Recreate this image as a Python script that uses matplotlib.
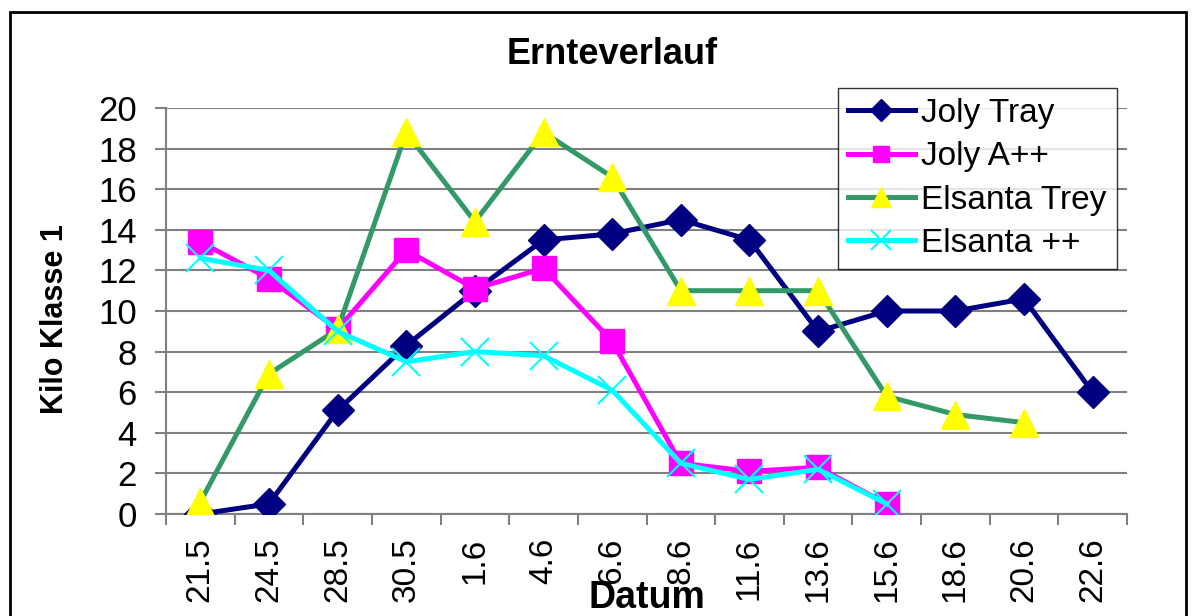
import numpy as np
import matplotlib
matplotlib.use("Agg")
import matplotlib.pyplot as plt
from matplotlib.patches import Rectangle

plt.rcParams['font.family'] = ['Liberation Sans', 'DejaVu Sans']

dates = ["21.5", "24.5", "28.5", "30.5", "1.6", "4.6", "6.6", "8.6",
         "11.6", "13.6", "15.6", "18.6", "20.6", "22.6"]
joly_tray = [0, 0.5, 5.1, 8.3, 11.0, 13.5, 13.8, 14.5, 13.5, 9.0, 10.0, 10.0, 10.6, 6.0]
joly_app = [13.4, 11.6, 9.1, 13.0, 11.1, 12.1, 8.5, 2.5, 2.1, 2.3, 0.5]
elsanta_trey = [0.6, 6.9, 9.1, 18.8, 14.4, 18.8, 16.6, 11.0, 11.0, 11.0, 5.8, 4.9, 4.5]
elsanta_pp = [12.6, 12.0, 9.0, 7.5, 8.0, 7.8, 6.1, 2.5, 1.7, 2.2, 0.5]

W, H = 1197, 616
fig = plt.figure(figsize=(W / 100, H / 100), dpi=100)
ax = fig.add_axes([166 / W, 1 - 514 / H, (1127 - 166) / W, (514 - 108) / H])

grey = "#808080"
x = np.arange(len(dates))

ax.plot(x[:len(joly_tray)], joly_tray, color="#000080", lw=3.6, marker="D", ms=16,
        mfc="#000080", mec="#000080", label="Joly Tray", zorder=3)
ax.plot(x[:len(joly_app)], joly_app, color="#FF00FF", lw=3.6, marker="s", ms=17,
        mfc="#FF00FF", mec="#FF00FF", label="Joly A++", zorder=4)
ax.plot(x[:len(elsanta_trey)], elsanta_trey, color="#339966", lw=3.6, marker="^", ms=20,
        mfc="#FFFF00", mec="#FFFF00", label="Elsanta Trey", zorder=5)
ax.plot(x[:len(elsanta_pp)], elsanta_pp, color="#00FFFF", lw=3.6, marker="x", ms=20,
        mew=1.5, mec="#00FFFF", label="Elsanta ++", zorder=6)

ax.set_xlim(-0.5, len(dates) - 0.5)
ax.set_ylim(0, 20)
ax.set_yticks(np.arange(0, 21, 2))
ax.yaxis.grid(True, color=grey, lw=1.5)
ax.set_axisbelow(True)

ax.set_xticks(np.arange(-0.5, len(dates), 1))
ax.set_xticklabels([])
ax.set_xticks(x, minor=True)
ax.set_xticklabels(dates, minor=True, rotation=90, fontsize=24, va="top")
ax.tick_params(axis="x", which="minor", length=0, pad=17)
ax.tick_params(axis="x", which="major", length=8, width=1.5, color=grey)
ax.tick_params(axis="y", length=8, width=1.5, color=grey, labelsize=25, pad=13)

for s in ["top", "right"]:
    ax.spines[s].set_visible(False)
for s in ["left", "bottom"]:
    ax.spines[s].set_color(grey)
    ax.spines[s].set_linewidth(1.5)

fig.text(612 / W, 1 - 55 / H, "Ernteverlauf", fontsize=26, fontweight="bold",
         ha="center", va="center")
fig.text(55 / W, 1 - 319 / H, "Kilo Klasse 1", fontsize=22, fontweight="bold",
         rotation=90, ha="center", va="center")
fig.text(647 / W, 1 - 598 / H, "Datum", fontsize=27, fontweight="bold",
         ha="center", va="center")

leg = ax.legend(loc="upper left", bbox_to_anchor=(838 / W, 1 - 88 / H),
                bbox_transform=fig.transFigure, fontsize=24, frameon=True,
                fancybox=False, borderpad=0.3, labelspacing=0.37,
                handlelength=2.0, handletextpad=0.2, borderaxespad=0,
                markerscale=0.7)
leg.get_frame().set_edgecolor("black")
leg.get_frame().set_linewidth(1.0)
leg.set_zorder(10)

fig.patches.append(Rectangle((10 / W, -0.1), (1186 - 10) / W, 1.1 - 12 / H,
                             transform=fig.transFigure, fill=False,
                             edgecolor="black", lw=2))

fig.savefig("out.png", dpi=100)
